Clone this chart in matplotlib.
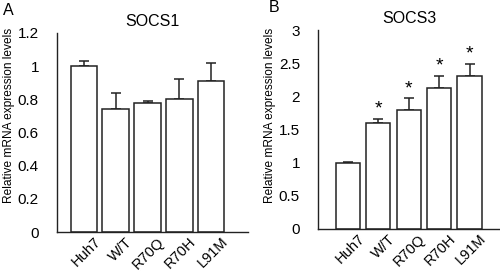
import numpy as np
import matplotlib
matplotlib.use('Agg')
import matplotlib.pyplot as plt
from matplotlib.transforms import ScaledTranslation

plt.rcParams['font.family'] = ['Liberation Sans', 'DejaVu Sans']

labels = ['Huh7', 'W/T', 'R70Q', 'R70H', 'L91M']

socs1_mean = [1.00, 0.74, 0.78, 0.80, 0.91]
socs1_err = [0.03, 0.10, 0.01, 0.12, 0.11]

socs3_mean = [1.00, 1.60, 1.79, 2.13, 2.31]
socs3_err = [0.01, 0.06, 0.18, 0.18, 0.18]
socs3_star = [False, True, True, True, True]

fig = plt.figure(figsize=(5.0, 2.73), dpi=100)
ax1 = fig.add_axes([57 / 500, 1 - 232 / 273, 191 / 500, 199 / 273])
ax2 = fig.add_axes([318 / 500, 1 - 229 / 273, 182 / 500, 199 / 273])


def panel(ax, mean, err, ymax, step, title, letter, xlim, width, stars=None):
    x = np.arange(len(labels))
    ax.bar(x, mean, width=width, color='white', edgecolor='#222222', linewidth=1.1, zorder=2)
    ax.errorbar(x, mean, yerr=[np.zeros(len(err)), err], fmt='none', ecolor='#222222',
                elinewidth=1.1, capsize=3.5, capthick=1.1, zorder=1)
    if stars is not None:
        for xi, m, e, s in zip(x, mean, err, stars):
            if s:
                ax.text(xi, m + e + 0.02, '*', ha='center', va='bottom', fontsize=14)
    ticks = np.arange(0, ymax + step / 2, step)
    ax.set_ylim(0, ymax)
    ax.set_xlim(*xlim)
    ax.set_yticks(ticks)
    ax.set_yticklabels(['%g' % v for v in ticks], fontsize=11)
    ax.tick_params(axis='y', length=0, pad=13)
    ax.tick_params(axis='x', length=0, pad=2)
    ax.set_xticks(x)
    ax.set_xticklabels(labels, rotation=45, ha='right', rotation_mode='anchor', fontsize=10.5)
    off = ScaledTranslation(7 / 72, 0, fig.dpi_scale_trans)
    for t in ax.get_xticklabels():
        t.set_transform(t.get_transform() + off)
    for s in ['top', 'right']:
        ax.spines[s].set_visible(False)
    for s in ['left', 'bottom']:
        ax.spines[s].set_linewidth(1.0)
        ax.spines[s].set_color('#222222')
    ax.set_ylabel('Relative mRNA expression levels', fontsize=8.6, va='center')
    ax.set_title(title, fontsize=11.5, pad=5)
    return ax.text(0, 1.115, letter, transform=ax.transAxes, fontsize=11.5, va='center')


la = panel(ax1, socs1_mean, socs1_err, 1.2, 0.2, 'SOCS1', 'A', (-0.85, 5.16), 0.84)
la.set_x(-0.285)
ax1.yaxis.set_label_coords(-0.252, 0.585)
lb = panel(ax2, socs3_mean, socs3_err, 3.0, 0.5, 'SOCS3', 'B', (-0.98, 5.0), 0.8, socs3_star)
lb.set_x(-0.27)
ax2.yaxis.set_label_coords(-0.262, 0.57)

fig.savefig('out.png', dpi=100)
